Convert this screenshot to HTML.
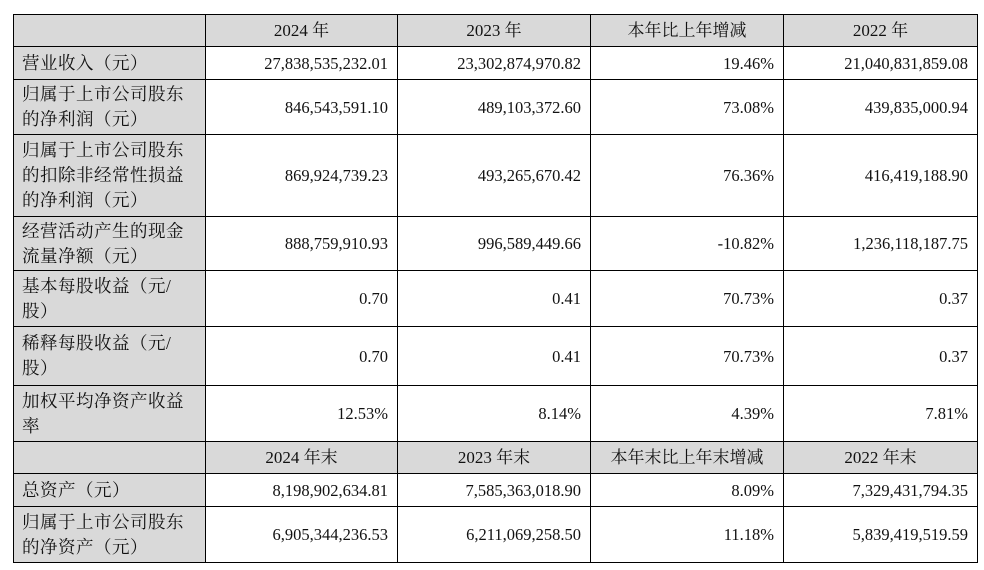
<!DOCTYPE html>
<html><head><meta charset="utf-8"><style>
body{margin:0;width:984px;height:570px;background:#fff;overflow:hidden;position:relative;font-family:"Liberation Serif","Noto Serif CJK SC",serif;color:#111}
table{position:absolute;left:13px;top:14px;border-collapse:collapse;table-layout:fixed;width:964px}
td{border:1.3px solid #000;font-size:16.5px;line-height:25px;padding:0 9px;text-align:right;white-space:nowrap}
td.l{background:#d9d9d9;text-align:left;padding:0 8px;font-size:17.5px;letter-spacing:0.5px}
tr.h td{background:#d9d9d9;text-align:center;font-size:17px}
</style></head><body>
<table>
<colgroup><col style="width:192px"><col style="width:192px"><col style="width:193px"><col style="width:193px"><col style="width:194px"></colgroup>
<tr class="h" style="height:32px"><td></td><td>2024 年</td><td>2023 年</td><td>本年比上年增减</td><td>2022 年</td></tr>
<tr style="height:33px"><td class="l">营业收入（元）</td><td>27,838,535,232.01</td><td>23,302,874,970.82</td><td>19.46%</td><td>21,040,831,859.08</td></tr>
<tr style="height:55px"><td class="l">归属于上市公司股东<br>的净利润（元）</td><td>846,543,591.10</td><td>489,103,372.60</td><td>73.08%</td><td>439,835,000.94</td></tr>
<tr style="height:82px"><td class="l">归属于上市公司股东<br>的扣除非经常性损益<br>的净利润（元）</td><td>869,924,739.23</td><td>493,265,670.42</td><td>76.36%</td><td>416,419,188.90</td></tr>
<tr style="height:54px"><td class="l">经营活动产生的现金<br>流量净额（元）</td><td>888,759,910.93</td><td>996,589,449.66</td><td>-10.82%</td><td>1,236,118,187.75</td></tr>
<tr style="height:56px"><td class="l">基本每股收益（元/<br>股）</td><td>0.70</td><td>0.41</td><td>70.73%</td><td>0.37</td></tr>
<tr style="height:59px"><td class="l">稀释每股收益（元/<br>股）</td><td>0.70</td><td>0.41</td><td>70.73%</td><td>0.37</td></tr>
<tr style="height:56px"><td class="l">加权平均净资产收益<br>率</td><td>12.53%</td><td>8.14%</td><td>4.39%</td><td>7.81%</td></tr>
<tr class="h" style="height:32px"><td></td><td>2024 年末</td><td>2023 年末</td><td>本年末比上年末增减</td><td>2022 年末</td></tr>
<tr style="height:33px"><td class="l">总资产（元）</td><td>8,198,902,634.81</td><td>7,585,363,018.90</td><td>8.09%</td><td>7,329,431,794.35</td></tr>
<tr style="height:56px"><td class="l">归属于上市公司股东<br>的净资产（元）</td><td>6,905,344,236.53</td><td>6,211,069,258.50</td><td>11.18%</td><td>5,839,419,519.59</td></tr>
</table>
</body></html>
